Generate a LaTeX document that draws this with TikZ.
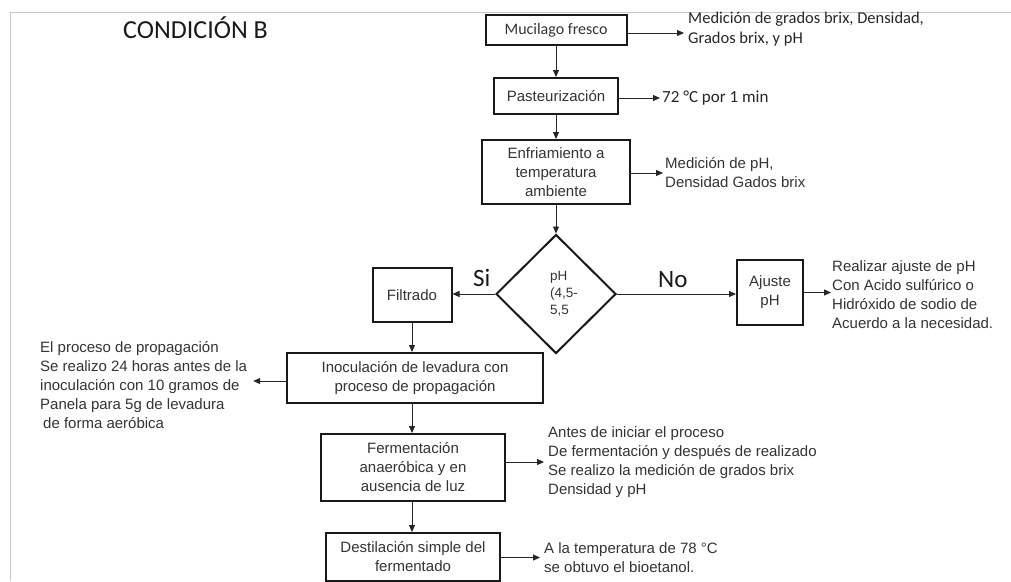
\documentclass[tikz,border=0pt]{standalone}
\usepackage{fontspec}
\usetikzlibrary{arrows.meta,shapes.geometric,calc}
\newfontfamily\arialf{Liberation Sans}
\newfontfamily\calf{Carlito}
\begin{document}
\begin{tikzpicture}[x=1pt,y=-1pt,
  procbox/.style={draw=black!90, line width=2pt, rectangle, inner sep=2pt, align=center, text=black!80, font=\arialf\fontsize{15}{19}\selectfont},
  notetext/.style={anchor=west, inner sep=0pt, align=left, text=black!80, font=\arialf\fontsize{15}{19}\selectfont},
  calnote/.style={anchor=west, inner sep=0pt, align=left, text=black!85, font=\calf\fontsize{16.5}{20}\selectfont},
  arr/.style={-{Triangle[length=7pt,width=6pt]}, line width=0.9pt, draw=black!85},
  lbl/.style={anchor=base west, inner sep=0pt, text=black!90, font=\calf\fontsize{25}{28}\selectfont}
]
\path[use as bounding box] (0,0) rectangle (1011,581);
% page frame
\draw[black!22, line width=1pt] (10,581) -- (10,12) -- (1011,12);

% title
\node[anchor=base west, inner sep=0pt, text=black!90, font=\calf\fontsize{26}{30}\selectfont] (title) at (123,38) {CONDICIÓN B};

% main column
\node[procbox, minimum width=141pt, minimum height=30pt, font=\calf\fontsize{16}{19}\selectfont] (muc) at (556,30) {Mucilago fresco};
\node[procbox, minimum width=124pt, minimum height=36pt] (past) at (556,96) {Pasteurización};
\node[procbox, minimum width=148pt, minimum height=64pt] (enf) at (556,172) {Enfriamiento a\\temperatura\\ambiente};
\node[draw=black!90, line width=2pt, diamond, aspect=1, minimum width=120pt, minimum height=119pt, inner sep=0pt] (dia) at (556,294) {};
\node[inner sep=0pt, align=left, text=black!80, font=\arialf\fontsize{13.5}{17}\selectfont] (diat) at (564,294) {pH\\(4,5-\\5,5};

% side notes top
\node[calnote] (muct) at (688,29) {Medición de grados brix, Densidad,\\Grados brix, y pH};
\node[calnote, font=\calf\fontsize{17}{19}\selectfont] (pastt) at (662,98) {72 °C por 1 min};
\node[notetext] (enft) at (665,173) {Medición de pH,\\Densidad Gados brix};

% branches
\node[procbox, minimum width=79pt, minimum height=54pt] (filt) at (412,295) {Filtrado};
\node[procbox, minimum width=66pt, minimum height=65pt] (aju) at (770,292.5) {Ajuste\\pH};
\node[notetext] (ajut) at (832,295) {Realizar ajuste de pH\\Con Acido sulfúrico o\\Hidróxido de sodio de\\Acuerdo a la necesidad.};
\node[lbl] (si) at (473,286) {Si};
\node[lbl] (no) at (658,287) {No};

% lower column
\node[procbox, minimum width=256pt, minimum height=50pt] (inoc) at (415,378) {Inoculación de levadura con\\proceso de propagación};
\node[notetext] (inoct) at (40,385) {El proceso de propagación\\Se realizo 24 horas antes de la\\inoculación con 10 gramos de\\Panela para 5g de levadura\\\hspace*{3pt}de forma aeróbica};
\node[procbox, minimum width=184pt, minimum height=67pt] (ferm) at (413,467.5) {Fermentación\\anaeróbica y en\\ausencia de luz};
\node[notetext] (fermt) at (548,462) {Antes de iniciar el proceso\\De fermentación y después de realizado\\Se realizo la medición de grados brix\\Densidad y pH};
\node[procbox, minimum width=174pt, minimum height=48pt] (dest) at (413,557) {Destilación simple del\\fermentado};
\node[notetext] (destt) at (544,557.5) {A la temperatura de 78 °C\\se obtuvo el bioetanol.};

% vertical connectors
\draw[arr] (muc.south) -- (muc.south |- past.north);
\draw[arr] (past.south) -- (past.south |- enf.north);
\draw[arr] (enf.south) -- (enf.south |- dia.north);
\draw[arr] (filt.south) -- (filt.south |- inoc.north);
\draw[arr] (filt.south |- inoc.south) -- (filt.south |- ferm.north);
\draw[arr] (filt.south |- ferm.south) -- (filt.south |- dest.north);

% horizontal connectors
\draw[arr, shorten >=4pt] (muc.east |- 0,33) -- (muct.west |- 0,33);
\draw[arr, shorten >=2pt] (past.east |- pastt.west) -- (pastt.west);
\draw[arr, shorten >=2pt] (enf.east |- enft.west) -- (enft.west);
\draw[arr] (dia.west) -- (dia.west -| filt.east);
\draw[arr] (dia.east) -- (dia.east -| aju.west);
\draw[arr, shorten >=1pt] (aju.east) -- (aju.east -| ajut.west);
\draw[arr, shorten >=6pt] (inoc.west |- 0,381) -- (inoct.east |- 0,381);
\draw[arr, shorten >=4pt] (ferm.east |- fermt.west) -- (fermt.west);
\draw[arr, shorten >=4pt] (dest.east |- destt.west) -- (destt.west);
\end{tikzpicture}
\end{document}
